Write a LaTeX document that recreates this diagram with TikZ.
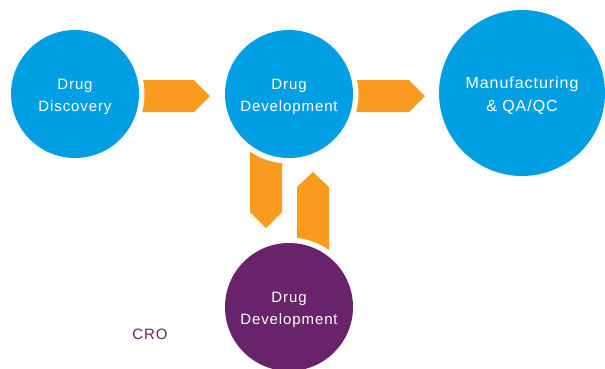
\documentclass[tikz,border=0pt]{standalone}
\usepackage{fontspec}
\setmainfont{Liberation Sans}[LetterSpace=6]
\usetikzlibrary{backgrounds}
\definecolor{stageblue}{RGB}{0,159,227}
\definecolor{stagepurple}{RGB}{104,35,106}
\definecolor{floworange}{RGB}{248,155,31}
\tikzset{
  stage/.style={circle,minimum size=128pt,inner sep=0pt,
    preaction={draw=white,line width=11pt}},
  stagetext/.style={text=white,align=center,font=\fontsize{15}{22}\selectfont},
  flow/.style={fill=floworange}
}

\begin{document}
\begin{tikzpicture}[x=1pt,y=-1pt]
\useasboundingbox (0,0) rectangle (605,368);
% stages
\node[stage,fill=stageblue,label={[stagetext,yshift=-3pt]center:Drug\\Discovery}] (disc) at (75,94) {};
\node[stage,fill=stageblue,label={[stagetext,yshift=-3pt]center:Drug\\Development}] (dev) at (289,94) {};
\node[stage,fill=stageblue,minimum size=166pt,
  label={[stagetext,font=\fontsize{16}{23}\selectfont,yshift=-3pt]center:Manufacturing\\\&~QA/QC}] (mfg) at (522,93) {};
\node[stage,fill=stagepurple,label={[stagetext,yshift=-3pt]center:Drug\\Development}] (cro) at (289,307) {};
\node[text=stagepurple,font=\fontsize{15}{18}\selectfont] (crolabel) at (150,334) {CRO};
% arrows between the stages
\begin{scope}[on background layer]
\fill[flow] (disc.center) ++(60,-14) -- (194,80) -- (210,96) -- (194,112) -- ++(-60,0) -- cycle;
\fill[flow] (dev.center) ++(60,-14) -- (409,80) -- (425,96) -- (409,112) -- ++(-60,0) -- cycle;
\fill[flow] (dev.center) ++(-39,55) -- (282,149) -- (282,212) -- (266,228) -- (250,212) -- cycle;
\fill[flow] (cro.center) ++(8,-55) -- (297,187) -- (313,172) -- (329,187) -- (329,252) -- cycle;
\end{scope}
\end{tikzpicture}
\end{document}
